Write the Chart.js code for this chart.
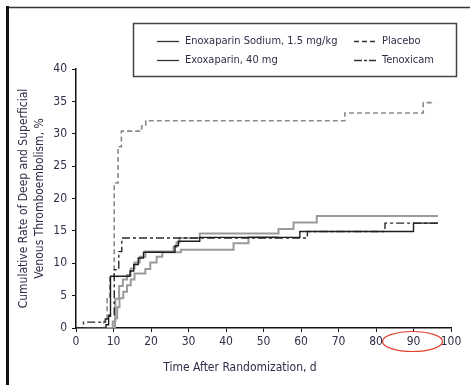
<!DOCTYPE html>
<html>
<head>
<meta charset="utf-8">
<script src="https://cdn.jsdelivr.net/npm/chart.js@4/dist/chart.umd.min.js"></script>
<style>
html, body { margin: 0; padding: 0; background: #fff; }
</style>
</head>
<body>
<canvas id="myChart" width="470" height="385"></canvas>
<script>
// tick values
var xTicks = [0, 10, 20, 30, 40, 50, 60, 70, 80, 90, 100];
var yTicks = [0, 5, 10, 15, 20, 25, 30, 35, 40];

var seriesNames = ['Enoxaparin Sodium, 1.5 mg/kg', 'Exoxaparin, 40 mg', 'Placebo', 'Tenoxicam'];
var xTitle = 'Time After Randomization, d';

// step curves: day of the step, cumulative rate (%) after it
var enoxDays = [0, 8, 8.7, 9.2, 14.4, 15.4, 16.6, 18, 26.4, 27.3, 33, 59.7, 90, 96.5];
var enoxRate = [0, 0.5, 1.8, 8, 8.8, 9.8, 10.8, 11.7, 12.7, 13.4, 14.0, 14.9, 16.2, 16.2];

var exoDays = [0, 9.8, 10.5, 11.5, 12.5, 13.6, 14.6, 15.6, 17, 18.5, 26, 26.8, 27.6, 33, 54, 58, 64.2, 96.5];
var exoRate = [0, 1, 4.5, 6.5, 7.5, 8.2, 9.2, 10.1, 11, 11.8, 12.5, 13.2, 13.9, 14.6, 15.3, 16.3, 17.3, 17.3];

var lowDays = [0, 10.4, 11, 11.6, 12.6, 13.6, 14.6, 15.6, 18.5, 19.8, 21.5, 23, 28, 42, 46, 54];
var lowRate = [0, 1.5, 3.2, 4.6, 5.6, 6.6, 7.5, 8.4, 9.1, 10.1, 11, 11.7, 12.1, 13.1, 14, 14];

var placeboDays = [0, 7.4, 8.3, 9, 10.2, 11.2, 12.1, 17.5, 18.6, 71.7, 92.6, 95.7];
var placeboRate = [0, 1, 4.5, 7.8, 22.4, 28, 30.4, 31.2, 32, 33.2, 34.8, 34.8];

var tenoxDays = [0, 2, 7.8, 8.8, 10.2, 11.4, 12.2, 61.7, 82.4, 96.5];
var tenoxRate = [0, 0.9, 1.4, 2.0, 9.0, 11.8, 13.9, 14.9, 16.2, 16.2];

function pts(days, rate) {
    return days.map(function (d, i) { return { x: d, y: rate[i] }; });
}

var fontFam = "'Liberation Sans Narrow', 'DejaVu Sans Condensed', 'Arial Narrow', sans-serif";
var textColor = '#2e2e48';

var decor = {
    id: 'decor',
    beforeDraw: function (chart) {
        var c = chart.ctx;
        c.save();
        c.fillStyle = '#fff';
        c.fillRect(0, 0, chart.width, chart.height);
        c.restore();
    },
    afterDraw: function (chart) {
        var c = chart.ctx;
        c.save();
        // page frame
        c.strokeStyle = '#333';
        c.lineWidth = 1.3;
        c.beginPath(); c.moveTo(6, 7.5); c.lineTo(470, 7.5); c.stroke();
        c.strokeStyle = '#111';
        c.lineWidth = 3;
        c.beginPath(); c.moveTo(7.5, 6); c.lineTo(7.5, 385); c.stroke();

        // x axis title (sits left of the axis centre in the original)
        c.font = '12px ' + fontFam;
        c.fillStyle = textColor;
        c.textAlign = 'center';
        c.textBaseline = 'middle';
        c.fillText(xTitle, 240, 368);

        // legend box
        c.fillStyle = '#fff';
        c.fillRect(133, 23, 324, 54);
        c.strokeStyle = '#444';
        c.lineWidth = 1.5;
        c.strokeRect(133.5, 23.5, 323, 53);
        var slots = [[157, 41], [157, 60], [354, 41], [354, 60]];
        var dashes = [[], [], [5, 3], [8, 2, 3, 2]];
        c.font = '11px ' + fontFam;
        c.textAlign = 'left';
        for (var i = 0; i < seriesNames.length; i++) {
            var s = slots[i];
            c.strokeStyle = '#333';
            c.lineWidth = 1.3;
            c.setLineDash(dashes[i]);
            c.beginPath(); c.moveTo(s[0], s[1] + 0.5); c.lineTo(s[0] + 22, s[1] + 0.5); c.stroke();
            c.setLineDash([]);
            c.fillStyle = textColor;
            c.fillText(seriesNames[i], s[0] + 28, s[1]);
        }

        // red ellipse round the 90 label
        c.strokeStyle = '#e2412c';
        c.lineWidth = 1.2;
        c.beginPath();
        c.ellipse(412.5, 341.5, 30, 10, 0, 0, Math.PI * 2);
        c.stroke();
        c.restore();
    }
};

var ctx = document.getElementById('myChart').getContext('2d');
var myChart = new Chart(ctx, {
    type: 'line',
    data: {
        datasets: [{
            label: seriesNames[0],
            data: pts(enoxDays, enoxRate),
            borderColor: '#1e1e1e',
            borderWidth: 1.4
        }, {
            label: seriesNames[3],
            data: pts(tenoxDays, tenoxRate),
            borderColor: '#2a2a2a',
            borderWidth: 1.4,
            borderDash: [8, 3, 3, 3]
        }, {
            label: seriesNames[1],
            data: pts(exoDays, exoRate),
            borderColor: '#9a9a9a',
            borderWidth: 2
        }, {
            label: '',
            data: pts(lowDays, lowRate),
            borderColor: '#9a9a9a',
            borderWidth: 2
        }, {
            label: seriesNames[2],
            data: pts(placeboDays, placeboRate),
            borderColor: '#8a8a8a',
            borderWidth: 1.6,
            borderDash: [5, 3]
        }]
    },
    options: {
        responsive: false,
        animation: false,
        devicePixelRatio: 1,
        layout: { padding: { left: 0, top: 69, right: 19, bottom: 0 } },
        elements: {
            point: { radius: 0 },
            line: { stepped: true, fill: false, tension: 0 }
        },
        plugins: {
            legend: { display: false },
            tooltip: { enabled: false }
        },
        scales: {
            x: {
                type: 'linear',
                min: 0,
                max: 100,
                afterBuildTicks: function (scale) {
                    scale.ticks = xTicks.map(function (v) { return { value: v }; });
                },
                afterFit: function (scale) { scale.height = 57; },
                grid: { display: true, drawOnChartArea: false, drawTicks: true, tickLength: 4, color: '#111' },
                border: { color: '#111', width: 1.5 },
                ticks: { color: textColor, padding: 3, maxRotation: 0, font: { family: fontFam, size: 12 } },
                title: { display: false }
            },
            y: {
                min: 0,
                max: 40,
                afterBuildTicks: function (scale) {
                    scale.ticks = yTicks.map(function (v) { return { value: v }; });
                },
                afterFit: function (scale) { scale.width = 76; },
                grid: { display: true, drawOnChartArea: false, drawTicks: true, tickLength: 4, color: '#111' },
                border: { color: '#111', width: 1.5 },
                ticks: { color: textColor, padding: 5, font: { family: fontFam, size: 12 } },
                title: {
                    display: true,
                    text: ['Cumulative Rate of Deep and Superficial', 'Venous Thromboembolism, %'],
                    color: textColor,
                    font: { family: fontFam, size: 12, lineHeight: 1.4 },
                    padding: { top: 15 }
                }
            }
        }
    },
    plugins: [decor]
});
</script>
</body>
</html>
